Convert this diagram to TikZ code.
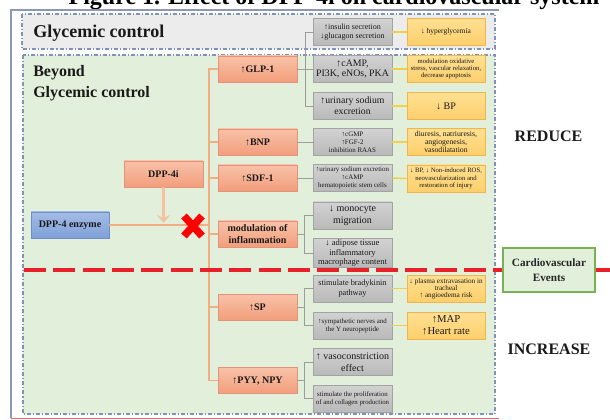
\documentclass[tikz,border=0pt]{standalone}
\usepackage{fontspec}
\setmainfont{Liberation Serif}
\usetikzlibrary{arrows.meta,calc}
\definecolor{framec}{HTML}{8C9AB8}
\definecolor{regc}{HTML}{7F93B8}
\definecolor{glyfill}{HTML}{ECECEC}
\definecolor{grfill}{HTML}{E2EFDA}
\definecolor{otop}{HTML}{F8C2A8}
\definecolor{obot}{HTML}{F29E7C}
\definecolor{odraw}{HTML}{E4927A}
\definecolor{etop}{HTML}{A3BCE6}
\definecolor{ebot}{HTML}{7FA0D8}
\definecolor{edraw}{HTML}{6E8FC6}
\definecolor{gtop}{HTML}{D2D2D2}
\definecolor{gbot}{HTML}{B9B9B9}
\definecolor{gdraw}{HTML}{A3A3A3}
\definecolor{ytop}{HTML}{FFE092}
\definecolor{ybot}{HTML}{FDCF6C}
\definecolor{ydraw}{HTML}{F2B44C}
\definecolor{ocon}{HTML}{F2AE80}
\definecolor{gcon}{HTML}{9C9C9C}
\definecolor{ycon}{HTML}{F0D048}
\definecolor{redd}{HTML}{E8202A}
\definecolor{cvdraw}{HTML}{78B255}
\newcommand{\fsz}[2]{\fontsize{#1}{#2}\selectfont}
\begin{document}
\begin{tikzpicture}[x=0.75pt,y=-0.75pt,
  region/.style={draw=regc, line width=0.9pt, dash pattern=on 3pt off 1.5pt on 0.8pt off 1.5pt},
  ob/.style={draw=odraw, line width=0.5pt, top color=otop, bottom color=obot, minimum width=59.25pt, minimum height=19.5pt, inner sep=0.5pt, align=center, font=\bfseries\fsz{7.5}{9}, text=black!90},
  eb/.style={draw=edraw, line width=0.5pt, top color=etop, bottom color=ebot, minimum width=58.5pt, minimum height=19.5pt, inner sep=0.5pt, align=center, font=\bfseries\fsz{7.5}{9}, text=black!90},
  gb/.style={draw=gdraw, line width=0.5pt, top color=gtop, bottom color=gbot, minimum width=59.25pt, minimum height=20.25pt, inner sep=0.5pt, align=center, text=black!90},
  yb/.style={draw=ydraw, line width=0.6pt, top color=ytop, bottom color=ybot, minimum width=58.5pt, minimum height=20.25pt, inner sep=0.5pt, align=center, text=black!90},
  oline/.style={draw=ocon, line width=1.3pt},
  gline/.style={draw=gcon, line width=0.6pt},
  yline/.style={draw=ycon, line width=1.1pt},
  reddash/.style={draw=redd, line width=2.6pt, dash pattern=on 16.5pt off 5.5pt},
  bigtext/.style={font=\bfseries\fsz{12}{14}, text=black!90}
]
\useasboundingbox (0,0) rectangle (610,420);
\clip (0,0) rectangle (610,420);
\fill[white] (0,0) rectangle (610,420);

% title (cut off at the top)
\node[anchor=base, font=\bfseries\fsz{18}{20}, inner sep=0] (title) at (334,5) {Figure 1. Effect of DPP-4i on cardiovascular system};

% outer frame
\draw[framec, line width=0.9pt] (11,418) -- (11,10) -- (499,10);
\draw[redd!70, line width=0.6pt] (11,418) -- (499,418);

% regions
\fill[glyfill] (22,14) rectangle (495,49);
\draw[region] (22,14) rectangle (495,49);
\fill[grfill] (23,55) rectangle (495,414);
\draw[region] (23,55) rectangle (495,414);

\node[anchor=base west, inner sep=0, font=\bfseries\fsz{13.5}{15}, text=black!90] (glyc) at (33,38) {Glycemic control};
\node[anchor=base west, inner sep=0, bigtext] (bey1) at (33,77) {Beyond};
\node[anchor=base west, inner sep=0, bigtext] (bey2) at (33,98) {Glycemic control};

% orange nodes
\node[ob] (glp) at (257.5,69) {↑GLP-1};
\node[ob] (bnp) at (257.5,142) {↑BNP};
\node[ob] (sdf) at (257.5,178) {↑SDF-1};
\node[ob] (mod) at (257.5,234) {modulation of\\inflammation};
\node[ob] (sp) at (257.5,307) {↑SP};
\node[ob] (pyy) at (257.5,380.5) {↑PYY, NPY};
\node[ob] (dpp) at (163.5,174) {DPP-4i};
\node[eb] (enz) at (70,225) {DPP-4 enzyme};

% gray nodes
\node[gb, font=\fsz{6}{6.2}] (ins) at (352.5,32) {↑insulin secretion\\↓glucagon secretion};
\node[gb, font=\fsz{7.4}{8}] (camp) at (352.5,69) {↑cAMP,\\PI3K, eNOs, PKA};
\node[gb, font=\fsz{7.3}{8.5}] (uri) at (352.5,106) {↑urinary sodium\\excretion};
\node[gb, font=\fsz{5.2}{6}] (cgmp) at (352.5,142) {↑cGMP\\↑FGF-2\\inhibition RAAS};
\node[gb, font=\fsz{5.2}{5.8}] (sdfg) at (352.5,178) {↑urinary sodium excretion\\↑cAMP\\hematopoietic stem cells};
\node[gb, font=\fsz{7.5}{9}] (mono) at (352.5,215.5) {↓ monocyte\\migration};
\node[gb, font=\fsz{6.4}{7.2}, minimum height=21.75pt] (adip) at (352.5,253) {↓ adipose tissue\\inflammatory\\macrophage content};
\node[gb, font=\fsz{6.2}{7.5}] (brady) at (352.5,288.5) {stimulate bradykinin\\pathway};
\node[gb, font=\fsz{5.2}{6}] (symp) at (352.5,325.5) {↑sympathetic nerves and\\the Y neuropeptide};
\node[gb, font=\fsz{7.5}{9}] (vaso) at (352.5,362) {↑ vasoconstriction\\effect};
\node[gb, font=\fsz{5.1}{6}] (prol) at (352.5,398.5) {stimulate the proliferation\\of and collagen production};

% yellow nodes
\node[yb, font=\fsz{5.6}{6}] (hyp) at (446,32) {↓ hyperglycemia};
\node[yb, font=\fsz{5}{5.5}] (modox) at (446,69) {modulation oxidative\\stress, vascular relaxation,\\decrease apoptosis};
\node[yb, font=\fsz{7.5}{8}] (bp) at (446,106) {↓ BP};
\node[yb, font=\fsz{5.8}{6}] (diur) at (446,142) {diuresis, natriuresis,\\angiogenesis,\\vasodilatation};
\node[yb, font=\fsz{5}{5.4}] (ros) at (446,178.5) {↓ BP, ↓ Non-induced ROS,\\neovascularization and\\restoration of injury};
\node[yb, font=\fsz{5.4}{5.4}] (plasma) at (446,288.5) {↓ plasma extravasation in\\tracheal\\↑ angioedema risk};
\node[yb, font=\fsz{8}{9}] (map) at (446,325.5) {↑MAP\\↑Heart rate};

% cardiovascular events
\node[draw=cvdraw, line width=0.9pt, fill=grfill, minimum width=69pt, minimum height=33pt, align=center, font=\bfseries\fsz{8.4}{11}, text=black!85] (cv) at (549,270) {Cardiovascular\\Events};
\node[bigtext] (reduce) at (548.5,136) {REDUCE};
\node[bigtext] (increase) at (549,349) {INCREASE};

% orange connectors
\draw[oline] (glp.west) -- ++(-8.5,0) coordinate (ob) -- (ob |- pyy.west) -- (pyy.west);
\foreach \n in {bnp,sdf,mod,sp} \draw[oline] (\n.west) -- (\n.west -| ob);
\draw[oline] (enz.east) -- (enz.east -| ob);
\draw[draw=ocon!75, line width=1.6pt, -{Stealth[length=6pt,width=10pt,inset=2.5pt,fill=ocon!75]}, shorten >=1.5pt] (dpp.south) -- (dpp.south |- enz.east);
\coordinate (xm) at (193,226);
\draw[red, line width=5.6pt] (xm) ++(-9,-10) -- ++(18,20);
\draw[red, line width=5.6pt] (xm) ++(9,-10) -- ++(-18,20);

% gray connectors
\draw[gline] (ins.west) -- ++(-7,0) coordinate (gb1) |- (uri.west);
\draw[gline] (glp.east) -- (camp.west);
\draw[gline] (bnp.east) -- (cgmp.west);
\draw[gline] (sdf.east) -- (sdfg.west);
\draw[gline] (mono.west) -- ++(-8,0) coordinate (gb2) |- (adip.west);
\draw[gline] (mod.east) -- (mod.east -| gb2);
\draw[gline] (brady.west) -- ++(-8,0) coordinate (gb3) |- (symp.west);
\draw[gline] (sp.east) -- (sp.east -| gb3);
\draw[gline] (vaso.west) -- ++(-8,0) coordinate (gb4) |- (prol.west);
\draw[gline] (pyy.east) -- (pyy.east -| gb4);

% yellow connectors
\draw[yline] (ins.east) -- (hyp.west);
\draw[yline] (camp.east) -- (modox.west);
\draw[yline] (uri.east) -- (bp.west);
\draw[yline] (cgmp.east) -- (diur.west);
\draw[yline] (sdfg.east) -- (ros.west);
\draw[yline] (brady.east) -- (plasma.west);
\draw[yline] (symp.east) -- (map.west);

% red dashed separation line
\coordinate (rl) at (24,270);
\coordinate (rr) at (612,270);
\draw[reddash] (rl) -- (cv.west);
\draw[reddash] (cv.east) -- (rr);
\end{tikzpicture}
\end{document}
